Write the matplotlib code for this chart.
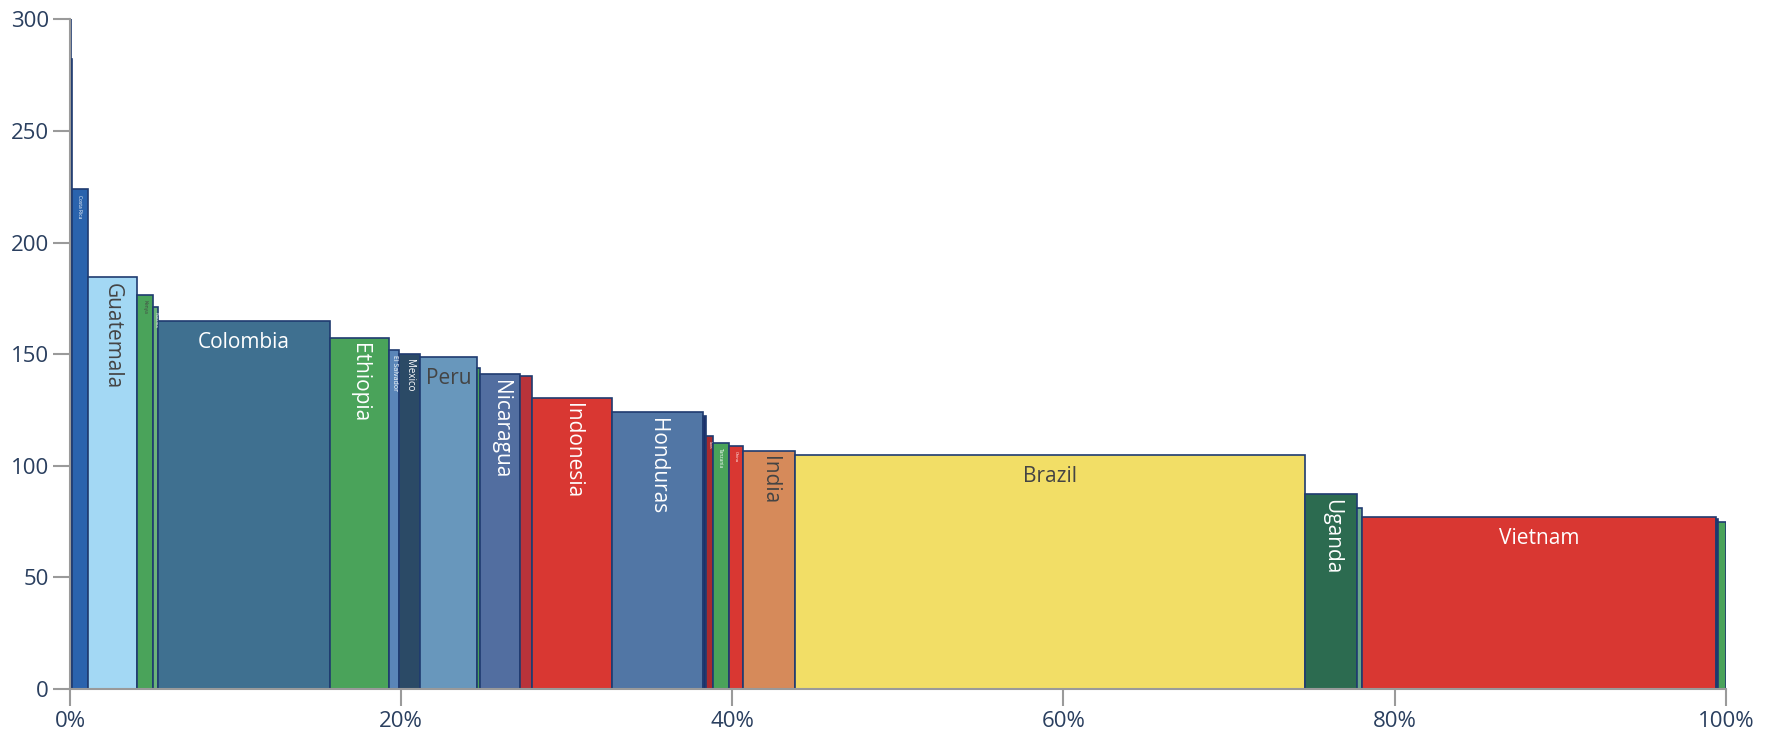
import matplotlib.pyplot as plt
import numpy as np

plt.rcParams['font.family'] = ['Open Sans', 'DejaVu Sans']

# country, share of volume (%), price index
countries = ["", "", "Costa Rica", "Guatemala", "Kenya", "Panama", "Colombia", "Ethiopia",
             "El Salvador", "Mexico", "Peru", "", "Nicaragua", "", "Indonesia", "Honduras",
             "", "Laos", "Tanzania", "China", "India", "Brazil", "Uganda", "", "Vietnam", "", ""]
shares = [0.05, 0.05, 1.00, 2.93, 0.98, 0.29, 10.40, 3.58, 0.59, 1.27, 3.42, 0.20, 2.43, 0.73,
          4.83, 5.49, 0.15, 0.42, 0.99, 0.86, 3.12, 30.82, 3.15, 0.27, 21.37, 0.13, 0.48]
prices = [300, 282, 224, 184.5, 176.7, 171.3, 165.0, 157.4, 151.9, 150.1, 148.9, 143.9, 141.1,
          140.1, 130.4, 124.1, 122.3, 113.4, 110.3, 109.0, 106.8, 104.7, 87.4, 80.9, 77.2, 76.0, 74.9]
colors = ["#1f4e9a", "#2a5fa8", "#2a63ad", "#a3d8f4", "#4aa35a", "#6bb27a", "#3f7090", "#4aa35a",
          "#5a85b8", "#2b4a66", "#6897bc", "#4aa35a", "#526ea0", "#b9333a", "#d93732", "#5176a5",
          "#1c2f6a", "#a82a2e", "#4aa35a", "#d93732", "#d68a5a", "#f2de66", "#2c6b50", "#6aa88a",
          "#d93732", "#1c2f6a", "#4aa35a"]

# label styling: size, rotation, colour
label_style = {
    "Costa Rica": (3.5, 270, "white"),
    "Kenya": (3.5, 270, "#444444"),
    "Panama": (3, 270, "white"),
    "Guatemala": (15, 270, "#444444"),
    "Colombia": (15, 0, "white"),
    "Ethiopia": (15, 270, "white"),
    "El Salvador": (5, 270, "white"),
    "Mexico": (7, 270, "white"),
    "Peru": (15, 0, "#444444"),
    "Nicaragua": (15, 270, "white"),
    "Indonesia": (15, 270, "white"),
    "Honduras": (15, 270, "white"),
    "Laos": (2.5, 270, "white"),
    "Tanzania": (3.5, 270, "white"),
    "China": (3, 270, "white"),
    "India": (15, 270, "#444444"),
    "Brazil": (15, 0, "#444444"),
    "Uganda": (15, 270, "white"),
    "Vietnam": (15, 0, "white"),
}

fig = plt.figure(figsize=(17.71, 7.34), dpi=100)
ax = fig.add_axes([0.0395, 0.0613, 0.935, 0.9124])

lefts = np.concatenate([[0], np.cumsum(shares)[:-1]])
ax.bar(lefts, prices, width=shares, align="edge", color=colors,
       edgecolor="#1f3b70", linewidth=1.2)

for name, left, w, h in zip(countries, lefts, shares, prices):
    if name not in label_style:
        continue
    size, rot, col = label_style[name]
    pad = -8 if rot == 0 else -4
    ax.annotate(name, (left + w / 2, h), xytext=(0, pad), textcoords="offset points",
                ha="center", va="top", rotation=rot, fontsize=size, color=col)

ax.set_xlim(0, 100)
ax.set_ylim(0, 300)
ax.set_xticks([0, 20, 40, 60, 80, 100])
ax.set_xticklabels([f"{t}%" for t in [0, 20, 40, 60, 80, 100]])
ax.set_yticks([0, 50, 100, 150, 200, 250, 300])

for side in ["top", "right"]:
    ax.spines[side].set_visible(False)
for side in ["left", "bottom"]:
    ax.spines[side].set_color("#9a9a9a")
    ax.spines[side].set_linewidth(1.5)

ax.tick_params(axis="both", direction="out", length=12, width=1.5, color="#9a9a9a",
               labelsize=16, labelcolor="#2a3f5f")
ax.tick_params(axis="x", pad=4)
ax.tick_params(axis="y", pad=3)

fig.savefig("out.png", dpi=100)
